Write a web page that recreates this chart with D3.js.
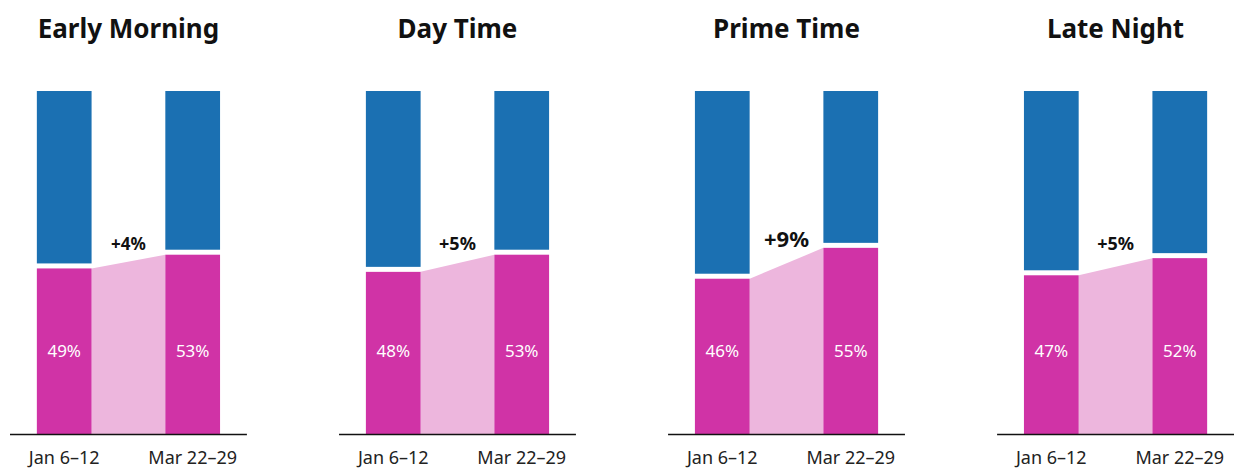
<!DOCTYPE html>
<html>
<head>
<meta charset="utf-8">
<script src="https://cdn.jsdelivr.net/npm/d3@7"></script>
<style>
  body { margin: 0; background: #fff; }
  svg text { font-family: "Noto Sans", "Open Sans", sans-serif; }
</style>
</head>
<body>
<svg id="chart" width="1235" height="470"></svg>
<script>
/* global d3 */

var dayparts = ["Early Morning", "Day Time", "Prime Time", "Late Night"],
	periods = ["Jan 6–12", "Mar 22–29"],
	janShare = [49, 48, 46, 47],
	marShare = [53, 53, 55, 52];

var svg = d3.select("#chart"),
	plotTop = 91,
	plotBottom = 434,
	gap = 2.5,
	colBlue = "#1b70b2",
	colPink = "#d033a6",
	colBand = "#edb6dd";

var panel = d3.scaleBand()
	.domain(dayparts)
	.range([10, 1234])
	.paddingInner(0.28)
	.paddingOuter(0);

var x = d3.scaleBand()
	.domain(periods)
	.range([0, panel.bandwidth()])
	.paddingInner(0.574)
	.paddingOuter(0.209);

var y = d3.scaleLinear()
	.domain([0, 100])
	.range([plotBottom, plotTop]);

// change label grows with the size of the change
var labelSize = d3.scaleLinear().domain([4, 9]).range([17, 22]);

dayparts.forEach(function(name, i) {
	var vals = [janShare[i], marShare[i]],
		g = svg.append("g").attr("transform", "translate(" + panel(name) + ",0)"),
		w = x.bandwidth(),
		mid = panel.bandwidth() / 2,
		diff = vals[1] - vals[0];

	g.append("text")
		.attr("x", mid)
		.attr("y", 38)
		.attr("text-anchor", "middle")
		.attr("font-size", 26)
		.attr("font-weight", 700)
		.attr("fill", "#111")
		.text(name);

	// connecting band between the two bars
	var x0 = x(periods[0]) + w,
		x1 = x(periods[1]);
	g.append("path")
		.attr("fill", colBand)
		.attr("d", "M" + x0 + "," + plotBottom +
			"L" + x0 + "," + (y(vals[0]) + gap) +
			"L" + x1 + "," + (y(vals[1]) + gap) +
			"L" + x1 + "," + plotBottom + "Z");

	periods.forEach(function(p, j) {
		g.append("rect")
			.attr("x", x(p))
			.attr("y", y(100))
			.attr("width", w)
			.attr("height", y(vals[j]) - gap - y(100))
			.attr("fill", colBlue);
		g.append("rect")
			.attr("x", x(p))
			.attr("y", y(vals[j]) + gap)
			.attr("width", w)
			.attr("height", plotBottom - y(vals[j]) - gap)
			.attr("fill", colPink);
		g.append("text")
			.attr("x", x(p) + w / 2)
			.attr("y", 357)
			.attr("text-anchor", "middle")
			.attr("font-size", 17)
			.attr("fill", "#fff")
			.text(vals[j] + "%");
		g.append("text")
			.attr("x", x(p) + w / 2)
			.attr("y", 464)
			.attr("text-anchor", "middle")
			.attr("font-size", 18)
			.attr("fill", "#222")
			.text(p);
	});

	g.append("text")
		.attr("x", (x0 + x1) / 2)
		.attr("y", Math.min(250, y(vals[1]) + 2))
		.attr("text-anchor", "middle")
		.attr("font-size", labelSize(diff))
		.attr("font-weight", 700)
		.attr("fill", "#111")
		.text("+" + diff + "%");

	g.append("line")
		.attr("x1", 0)
		.attr("x2", panel.bandwidth())
		.attr("y1", plotBottom + 0.5)
		.attr("y2", plotBottom + 0.5)
		.attr("stroke", "#111")
		.attr("stroke-width", 1.5);
});
</script>
</body>
</html>
